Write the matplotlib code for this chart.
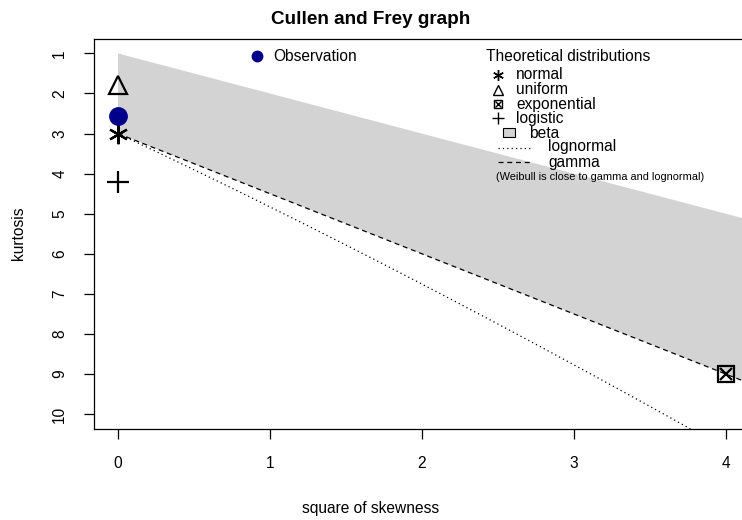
import numpy as np
import matplotlib
matplotlib.use("Agg")
import matplotlib.pyplot as plt
from matplotlib.patches import Polygon, Rectangle

plt.rcParams["font.family"] = ["Liberation Sans", "DejaVu Sans"]

# observed moments
obs_skew2 = 0.0
obs_kurt = 2.55

# theoretical points
dist_names = ["normal", "uniform", "exponential", "logistic"]
dist_skew2 = [0.0, 0.0, 4.0, 0.0]
dist_kurt = [3.0, 1.8, 9.0, 4.2]

xticks = [0, 1, 2, 3, 4]
yticks = [1, 2, 3, 4, 5, 6, 7, 8, 9, 10]

W, H = 742, 520
fig = plt.figure(figsize=(W / 100, H / 100), dpi=100)

def px(x, y):
    return x / W, 1 - y / H

left, right, top, bottom = 93.7, 750.0, 39.0, 428.5
ax = fig.add_axes([left / W, 1 - bottom / H, (right - left) / W, (bottom - top) / H])
ax.set_xlim(-0.16, 4.16)
ax.set_ylim(10.36, 0.64)

# beta region: between kurt = s2 + 1 and the gamma line kurt = 3 + 1.5 s2
s2 = np.linspace(0, 10, 200)
upper = s2 + 1
lower = 3 + 1.5 * s2
beta = Polygon(np.column_stack([np.r_[s2, s2[::-1]], np.r_[upper, lower[::-1]]]),
               closed=True, facecolor="#d3d3d3", edgecolor="none", zorder=1)
ax.add_patch(beta)

# gamma line
ax.plot(s2, lower, color="black", lw=0.9, ls=(0, (4, 3)), zorder=2)

# lognormal curve
sig = np.linspace(0.0, 1.0, 400)
es2 = np.exp(sig ** 2)
ln_s2 = (es2 + 2) ** 2 * (es2 - 1)
ln_k = es2 ** 4 + 2 * es2 ** 3 + 3 * es2 ** 2 - 3
ax.plot(ln_s2, ln_k, color="black", lw=0.9, ls=(0, (1, 2.5)), zorder=2)

# distribution markers
styles = {
    "normal": dict(marker=(6, 2, 0), ms=14, mew=1.6),
    "uniform": dict(marker="^", ms=13, mew=1.6, mfc="none"),
    "exponential": dict(marker="s", ms=11, mew=1.6, mfc="none"),
    "logistic": dict(marker="+", ms=16, mew=1.6),
}
for name, x, y in zip(dist_names, dist_skew2, dist_kurt):
    ax.plot([x], [y], color="black", ls="none", zorder=4, clip_on=False, **styles[name])
    if name == "exponential":
        ax.plot([x], [y], color="black", marker="x", ms=8, mew=1.6, ls="none", zorder=4)

ax.plot([obs_skew2], [obs_kurt], marker="o", color="darkblue", ms=12.5, ls="none", zorder=5,
        clip_on=False)

ax.set_xticks(xticks)
ax.set_yticks(yticks)
ax.tick_params(direction="out", length=7, width=0.9, labelsize=11.2)
ax.tick_params(axis="x", pad=13)
ax.tick_params(axis="y", pad=12)
for lbl in ax.get_yticklabels():
    lbl.set_rotation(90)
    lbl.set_va("center")
for sp in ax.spines.values():
    sp.set_linewidth(0.9)

fig.text(*px(371, 20), "Cullen and Frey graph", ha="center", va="center",
         fontsize=13.6, fontweight="bold")
fig.text(*px(371, 509), "square of skewness", ha="center", va="center", fontsize=11.2)
fig.text(*px(18, 233), "kurtosis", ha="center", va="center", rotation=90, fontsize=11.2)

# legends
fig.add_artist(plt.Line2D([257 / W], [1 - 56 / H], marker="o", color="darkblue", ms=7.5, ls="none"))
fig.text(*px(273, 56), "Observation", va="center", fontsize=11.2)

fig.text(*px(486, 56), "Theoretical distributions", va="center", fontsize=11.2)
rows = [("normal", 75), ("uniform", 90), ("exponential", 104), ("logistic", 118)]
for name, y in rows:
    st = dict(styles[name])
    st["ms"] = st["ms"] * 0.55
    st["mew"] = 1.0
    fig.add_artist(plt.Line2D([498 / W], [1 - y / H], color="black", ls="none", **st))
    if name == "exponential":
        fig.add_artist(plt.Line2D([498 / W], [1 - y / H], color="black", marker="x", ms=4,
                                  mew=1.0, ls="none"))
    fig.text(*px(516, y), name, va="center", fontsize=11.2)

fig.add_artist(Rectangle(px(503, 137), 12 / W, 9 / H, transform=fig.transFigure,
                         facecolor="#d3d3d3", edgecolor="black", lw=0.8))
fig.text(*px(529, 133), "beta", va="center", fontsize=11.2)
fig.add_artist(plt.Line2D([px(498, 0)[0], px(530, 0)[0]], [1 - 148 / H] * 2, color="black",
                          lw=0.9, ls=(0, (1, 2.5))))
fig.text(*px(548, 147), "lognormal", va="center", fontsize=11.2)
fig.add_artist(plt.Line2D([px(498, 0)[0], px(530, 0)[0]], [1 - 162 / H] * 2, color="black",
                          lw=0.9, ls=(0, (4, 3))))
fig.text(*px(548, 162), "gamma", va="center", fontsize=11.2)
fig.text(*px(496, 177), "(Weibull is close to gamma and lognormal)", va="center", fontsize=7.9)

fig.savefig("out.png", dpi=100)
